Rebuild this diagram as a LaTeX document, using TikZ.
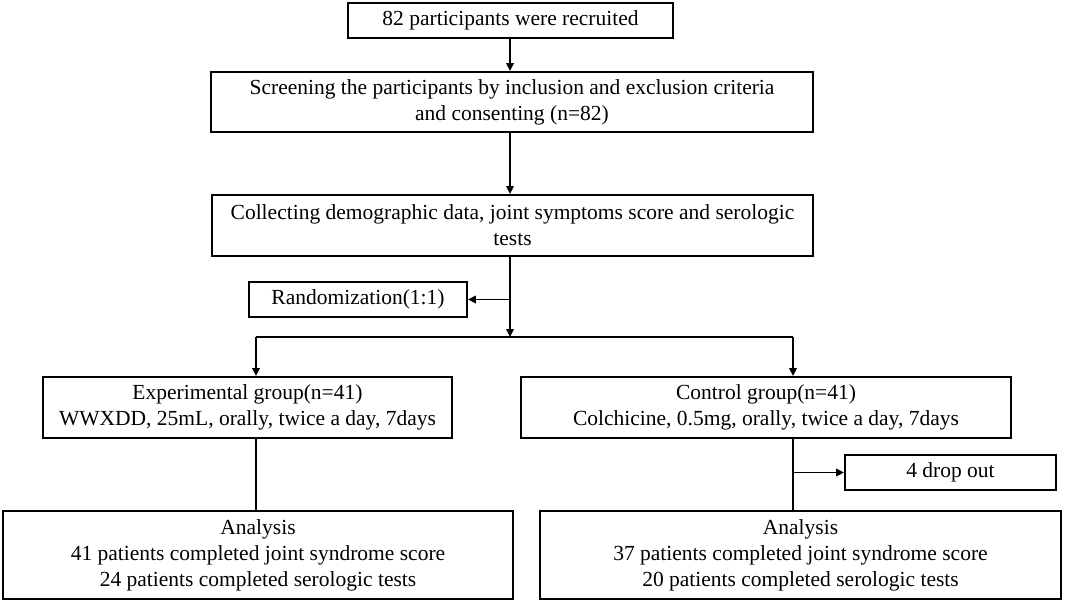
\documentclass[tikz,border=0pt]{standalone}
\usepackage{fontspec}
\setmainfont{Liberation Serif}
\usetikzlibrary{arrows.meta}
\begin{document}
\begin{tikzpicture}[x=1pt,y=-1pt,
  box/.style={draw=black,line width=1.9pt,inner sep=0pt,align=center,
    font=\fontsize{21.5}{26}\selectfont},
  conn/.style={line width=1.9pt,draw=black},
  arr/.style={conn,-{Triangle[length=8pt,width=7.5pt]}}]
\useasboundingbox (0,0) rectangle (1065,602);
\node[box,minimum width=325pt,minimum height=35pt] (A) at (510.5,20.5) {82 participants were recruited};
\node[box,minimum width=602pt,minimum height=60pt] (B) at (512,102) {Screening the participants by inclusion and exclusion criteria\\and consenting (n=82)};
\node[box,minimum width=601pt,minimum height=61pt] (C) at (512.5,225.5) {Collecting demographic data, joint symptoms score and serologic\\tests};
\node[box,minimum width=218pt,minimum height=35pt] (D) at (358,299.5) {Randomization(1:1)};
\node[box,minimum width=409pt,minimum height=61pt] (E) at (247.5,407.5) {Experimental group(n=41)\\WWXDD, 25mL, orally, twice a day, 7days};
\node[box,minimum width=490pt,minimum height=61pt] (F) at (766,407.5) {Control group(n=41)\\Colchicine, 0.5mg, orally, twice a day, 7days};
\node[box,minimum width=211pt,minimum height=35pt] (G) at (950.5,472.5) {4 drop out};
\node[box,minimum width=510pt,minimum height=88pt] (H) at (258,555) {Analysis\\41 patients completed joint syndrome score\\24 patients completed serologic tests};
\node[box,minimum width=521pt,minimum height=88pt] (I) at (800.5,555) {Analysis\\37 patients completed joint syndrome score\\20 patients completed serologic tests};
\coordinate (S) at (510,0);
\coordinate (J) at (510,337);
\coordinate (JL) at (256,337);
\coordinate (JR) at (793,337);
\draw[arr] (S |- A.south) -- (S |- B.north);
\draw[arr] (S |- B.south) -- (S |- C.north);
\draw[arr] (S |- C.south) -- (J);
\draw[arr] (S |- D.east) -- (D.east);
\draw[conn] (JL) -- (JR);
\draw[arr] (JL) -- (JL |- E.north);
\draw[arr] (JR) -- (JR |- F.north);
\draw[conn] (JL |- E.south) -- (JL |- H.north);
\draw[conn] (JR |- F.south) -- (JR |- I.north);
\draw[arr] (JR |- G.west) -- (G.west);
\end{tikzpicture}
\end{document}
